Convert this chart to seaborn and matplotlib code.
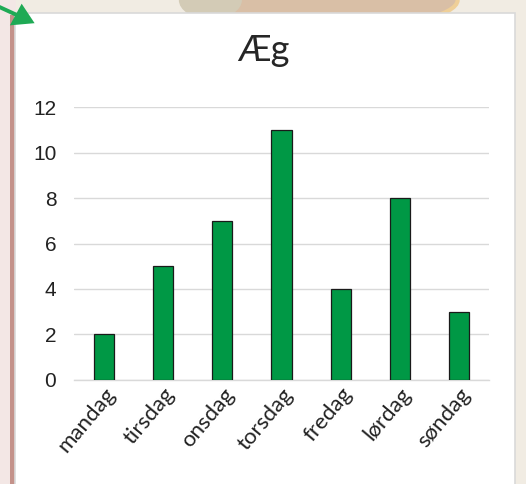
import matplotlib
matplotlib.use("Agg")
import matplotlib.pyplot as plt
import matplotlib.patches as mpatches
import pandas as pd
import seaborn as sns

# chart data
days = ["mandag", "tirsdag", "onsdag", "torsdag", "fredag", "lørdag", "søndag"]
eggs = [2, 5, 7, 11, 4, 8, 3]
y_ticks = [0, 2, 4, 6, 8, 10, 12]
title = "Æg"

sns.set_theme(style="white")
plt.rcParams["font.family"] = ["Lato", "DejaVu Sans"]

df = pd.DataFrame({"dag": days, "antal": eggs})

fig = plt.figure(figsize=(5.26, 4.84), dpi=100)
fig.patch.set_facecolor("#f1ece3")

# decorative background around the chart panel
fig.patches.append(mpatches.Rectangle((0, 0), 0.03, 1, transform=fig.transFigure,
                                      facecolor="#f3e7e5", edgecolor="none", zorder=0))
fig.patches.append(mpatches.Rectangle((0.019, 0), 0.009, 0.97, transform=fig.transFigure,
                                      facecolor="#c4928a", edgecolor="none", zorder=0))
fig.patches.append(mpatches.Ellipse((0.62, 1.0), 0.5, 0.12, transform=fig.transFigure,
                                    facecolor="#d9bfa6", edgecolor="#efcf98", lw=3, zorder=0))
fig.patches.append(mpatches.Ellipse((0.40, 1.0), 0.12, 0.08, transform=fig.transFigure,
                                    facecolor="#d3cbb6", edgecolor="none", zorder=0))

# white chart panel
fig.patches.append(mpatches.Rectangle((0.029, -0.01), 0.951, 0.983, transform=fig.transFigure,
                                      facecolor="white", edgecolor="#d9d9d9", lw=1.2, zorder=1))

# green arrow in the corner
fig.patches.append(mpatches.FancyArrow(-0.01, 0.99, 0.04, -0.02, width=0.008, head_width=0.05,
                                       head_length=0.04, transform=fig.transFigure,
                                       facecolor="#1faa55", edgecolor="none", zorder=3))

ax = fig.add_axes([0.1415, 0.2149, 0.7875, 0.564])
ax.set_zorder(2)
ax.set_facecolor("none")
sns.barplot(data=df, x="dag", y="antal", color="#009845", width=0.34,
            edgecolor="#1a1a1a", linewidth=0.9, saturation=1, ax=ax, zorder=3)

ax.set_ylim(0, 12)
ax.set_xlim(-0.5, 6.5)
ax.set_yticks(y_ticks)
ax.set_yticklabels([str(t) for t in y_ticks], fontsize=15, family="Liberation Sans", color="#222222")
ax.yaxis.grid(True, color="#d9d9d9", linewidth=1, zorder=0)
ax.set_axisbelow(True)
ax.tick_params(axis="y", length=0, pad=13)
ax.tick_params(axis="x", length=0, pad=3)
for lab in ax.get_xticklabels():
    lab.set_rotation(50)
    lab.set_ha("right")
    lab.set_rotation_mode("anchor")
    lab.set_fontsize(16)
    lab.set_color("#222222")
ax.set_xlabel("")
ax.set_ylabel("")
for side in ["top", "right", "left"]:
    ax.spines[side].set_visible(False)
ax.spines["bottom"].set_color("#d9d9d9")
ax.spines["bottom"].set_linewidth(1)

fig.text(0.5, 0.895, title, ha="center", va="center", fontsize=26, color="#262626", zorder=3)

fig.savefig("out.png", dpi=100, facecolor=fig.get_facecolor())
